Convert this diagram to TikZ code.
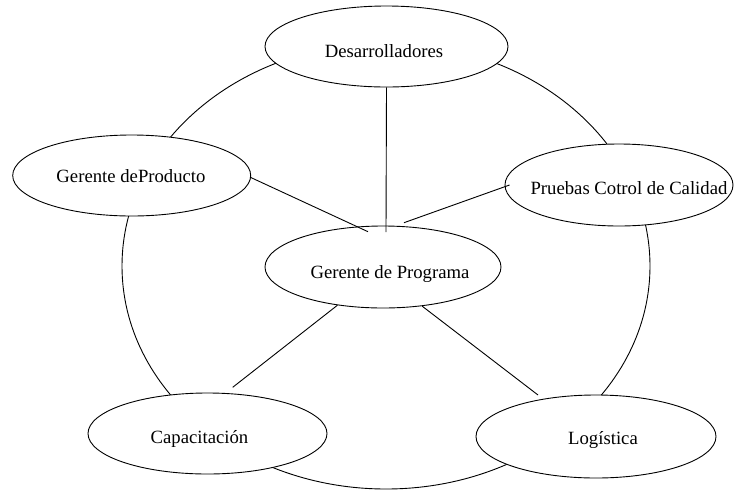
\documentclass[tikz,border=0pt]{standalone}
\usepackage{fontspec}
\setmainfont{Liberation Serif}
\usetikzlibrary{shapes.geometric,calc}
\tikzset{
  role/.style={ellipse, draw, fill=white, line width=0.9pt, inner sep=0pt},
  rolelabel/.style={anchor=base, inner sep=0pt, font=\fontsize{18.7}{22}\selectfont},
  link/.style={line width=0.9pt},
  ring/.style={line width=0.9pt}
}
\begin{document}
\begin{tikzpicture}[x=1pt,y=-1pt]
\useasboundingbox (0,0) rectangle (734,491);
\draw[ring] (386,266) ellipse [x radius=264pt, y radius=223pt];
\node[role, minimum width=243pt, minimum height=81pt] (dev) at (386.5,46.5) {};
\node[role, minimum width=238pt, minimum height=81pt] (prod) at (131.7,175.5) {};
\node[role, minimum width=228pt, minimum height=82pt] (qa) at (619,185) {};
\node[role, minimum width=236pt, minimum height=82pt] (prog) at (383,267) {};
\node[role, minimum width=239pt, minimum height=81pt] (cap) at (207.5,433.5) {};
\node[role, minimum width=240pt, minimum height=83pt] (log) at (596,436.5) {};
\node[rolelabel] (tdev) at (384,57) {Desarrolladores};
\node[rolelabel] (tprod) at (131,182) {Gerente deProducto};
\node[rolelabel] (tqa) at (629,194.5) {Pruebas Cotrol de Calidad};
\node[rolelabel] (tprog) at (390,278) {Gerente de Programa};
\node[rolelabel] (tcap) at (199.5,443) {Capacitación};
\node[rolelabel] (tlog) at (603,444) {Logística};
\coordinate (e1) at (386,232);
\coordinate (e2) at (368,231.7);
\coordinate (e3) at (404,222.7);
\coordinate (e4) at (232.7,387.3);
\coordinate (e5) at (538,395);
\draw[link] (dev.south) -- (e1);
\draw[link] (prod.-1) -- (e2);
\draw[link] ($(qa.west)+(5,0)$) -- (e3);
\draw[link] (prog.220) -- (e4);
\draw[link] (prog.-45) -- (e5);
\end{tikzpicture}
\end{document}
